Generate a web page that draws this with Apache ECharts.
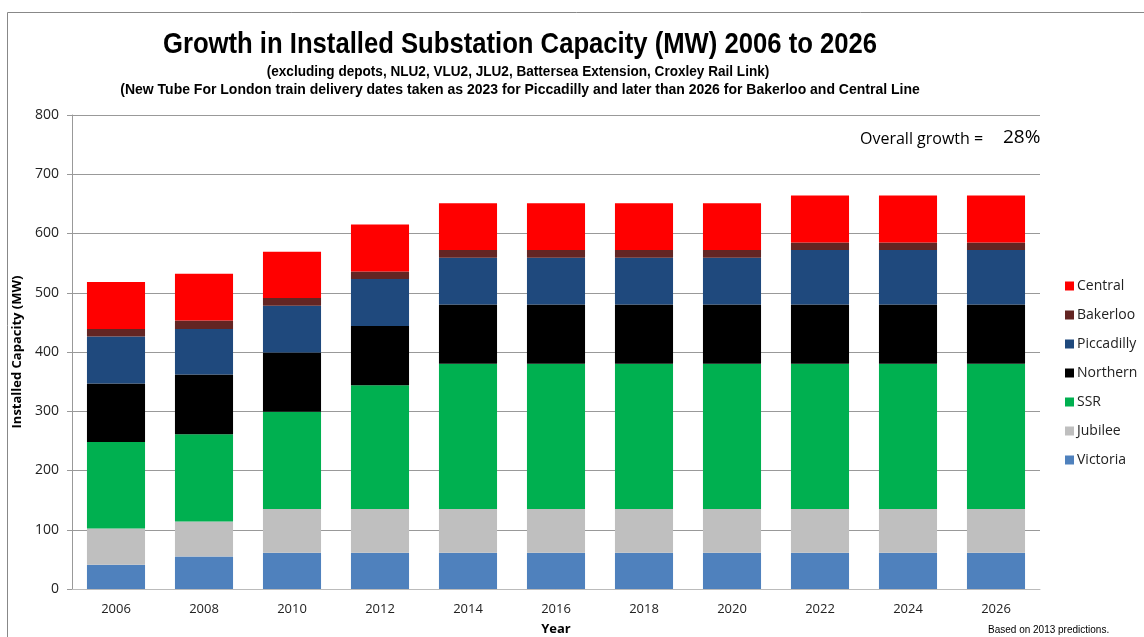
<!DOCTYPE html>
<html><head><meta charset="utf-8">
<script src="https://cdn.jsdelivr.net/npm/echarts@6/dist/echarts.min.js"></script>
<style>html,body{margin:0;padding:0;background:#fff}#c{width:1144px;height:637px}</style>
</head><body><div id="c"></div>
<script>
const years = ['2006','2008','2010','2012','2014','2016','2018','2020','2022','2024','2026'];
const victoria   = [41, 55, 61, 61, 61, 61, 61, 61, 61, 61, 61];
const jubilee    = [61, 59, 74, 74, 74, 74, 74, 74, 74, 74, 74];
const ssr        = [146, 147, 164, 209, 245, 245, 245, 245, 245, 245, 245];
const northern   = [99, 101, 100, 100, 100, 100, 100, 100, 100, 100, 100];
const piccadilly = [79, 77, 79, 79, 79, 79, 79, 79, 92, 92, 92];
const bakerloo   = [13, 14, 13, 13, 13, 13, 13, 13, 13, 13, 13];
const central    = [79, 79, 78, 79, 79, 79, 79, 79, 79, 79, 79];
const yTicks = [0, 100, 200, 300, 400, 500, 600, 700, 800];

const FONT = '"Liberation Sans",sans-serif';
const FONT2 = '"Open Sans","Liberation Sans",sans-serif';
const seriesDefs = [
  ['Victoria', victoria, '#4F81BD'],
  ['Jubilee', jubilee, '#BFBFBF'],
  ['SSR', ssr, '#00B050'],
  ['Northern', northern, '#000000'],
  ['Piccadilly', piccadilly, '#1F497D'],
  ['Bakerloo', bakerloo, '#632523'],
  ['Central', central, '#FF0000']
];
const chart = echarts.init(document.getElementById('c'));
chart.setOption({
  animation: false,
  backgroundColor: '#fff',
  graphic: [
    {type: 'rect', shape: {x: 7.5, y: 12.5, width: 1200, height: 700}, style: {fill: 'none', stroke: '#888', lineWidth: 1}, silent: true},
    {type: 'text', x: 520, y: 45, scaleX: 0.855, originX: 0, style: {text: 'Growth in Installed Substation Capacity (MW) 2006 to 2026',
      font: 'bold 30px ' + FONT, fill: '#000', align: 'center', verticalAlign: 'middle'}},
    {type: 'text', x: 518, y: 72, scaleX: 0.97, style: {text: '(excluding depots, NLU2, VLU2, JLU2, Battersea Extension, Croxley Rail Link)',
      font: 'bold 14px ' + FONT, fill: '#000', align: 'center', verticalAlign: 'middle'}},
    {type: 'text', x: 520, y: 90, style: {text: '(New Tube For London train delivery dates taken as 2023 for Piccadilly and later than 2026 for Bakerloo and Central Line',
      font: 'bold 14px ' + FONT, fill: '#000', align: 'center', verticalAlign: 'middle'}},
    {type: 'text', left: 860, top: 131, style: {text: 'Overall growth =', font: '16px ' + FONT2, fill: '#000'}},
    {type: 'text', left: 1003, top: 128, style: {text: '28%', font: '19px ' + FONT2, fill: '#000'}},
    {type: 'text', left: 988, top: 625, style: {text: 'Based on 2013 predictions.', font: '10px ' + FONT, fill: '#000'}}
  ],
  legend: {
    orient: 'vertical', left: 1060, top: 272, itemGap: 11, itemWidth: 9, itemHeight: 9, icon: 'rect',
    data: ['Central', 'Bakerloo', 'Piccadilly', 'Northern', 'SSR', 'Jubilee', 'Victoria'],
    textStyle: {fontFamily: FONT2, fontSize: 14, color: '#222', padding: [0, 0, 0, -2], lineHeight: 18}
  },
  grid: {left: 72, right: 104, top: 115, bottom: 48, outerBoundsMode: 'none', containLabel: false},
  xAxis: {
    type: 'category', data: years,
    name: 'Year', nameLocation: 'middle', nameGap: 34,
    nameTextStyle: {fontFamily: FONT2, fontSize: 13, fontWeight: 'bold', color: '#000'},
    axisLine: {lineStyle: {color: '#bbb', width: 1}},
    axisTick: {show: false},
    axisLabel: {fontFamily: FONT2, fontSize: 13, color: '#222', margin: 14}
  },
  yAxis: {
    type: 'value', min: 0, max: 800, interval: 100,
    name: 'Installed Capacity (MW)', nameLocation: 'middle', nameGap: 44, nameRotate: 90,
    nameTextStyle: {fontFamily: FONT2, fontSize: 13, fontWeight: 'bold', color: '#000'},
    axisLine: {show: true, lineStyle: {color: '#999'}},
    axisTick: {show: true, inside: false, length: 5, lineStyle: {color: '#999'}},
    axisLabel: {fontFamily: FONT2, fontSize: 14, color: '#222', margin: 13,
      formatter: v => yTicks.includes(v) ? String(v) : ''},
    splitLine: {lineStyle: {color: '#999', width: 1}}
  },
  series: seriesDefs.map(([name, data, color]) => ({
    name, type: 'bar', stack: 'total', data, barWidth: '66%',
    itemStyle: {color}
  }))
});
</script></body></html>
